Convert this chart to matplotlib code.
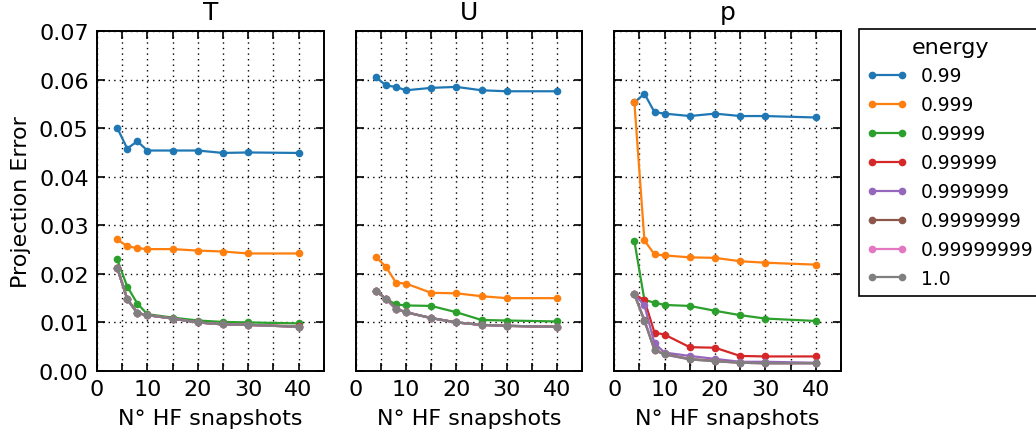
import matplotlib
matplotlib.use("Agg")
import matplotlib.pyplot as plt
from matplotlib.ticker import MultipleLocator, FuncFormatter

snapshots = [4, 6, 8, 10, 15, 20, 25, 30, 40]
energies = ["0.99", "0.999", "0.9999", "0.99999", "0.999999",
            "0.9999999", "0.99999999", "1.0"]
panels = ["T", "U", "p"]

# T panel
T_099 = [0.0501, 0.0458, 0.0473, 0.0454, 0.0454, 0.0454, 0.0449, 0.0450, 0.0449]
T_0999 = [0.0271, 0.0257, 0.0253, 0.0251, 0.0251, 0.0248, 0.0246, 0.0242, 0.0242]
T_09999 = [0.0230, 0.0174, 0.0139, 0.0117, 0.0110, 0.0104, 0.0101, 0.0100, 0.0098]
T_099999 = [0.0213, 0.0149, 0.0120, 0.0115, 0.0108, 0.0100, 0.0096, 0.0095, 0.0092]
T_0999999 = [0.0213, 0.0148, 0.0119, 0.0115, 0.0108, 0.0100, 0.0096, 0.0095, 0.0091]
T_09999999 = [0.0213, 0.0148, 0.0119, 0.0115, 0.0108, 0.0100, 0.0096, 0.0095, 0.0091]
T_099999999 = [0.0213, 0.0148, 0.0119, 0.0115, 0.0108, 0.0100, 0.0096, 0.0095, 0.0091]
T_1 = [0.0213, 0.0148, 0.0119, 0.0115, 0.0108, 0.0100, 0.0096, 0.0095, 0.0091]

# U panel
U_099 = [0.0606, 0.0588, 0.0585, 0.0578, 0.0583, 0.0585, 0.0578, 0.0576, 0.0576]
U_0999 = [0.0235, 0.0215, 0.0182, 0.0180, 0.0161, 0.0160, 0.0154, 0.0150, 0.0150]
U_09999 = [0.0165, 0.0149, 0.0137, 0.0135, 0.0134, 0.0121, 0.0105, 0.0104, 0.0102]
U_099999 = [0.0165, 0.0149, 0.0128, 0.0121, 0.0109, 0.0100, 0.0095, 0.0093, 0.0091]
U_0999999 = [0.0165, 0.0149, 0.0128, 0.0121, 0.0109, 0.0100, 0.0095, 0.0093, 0.0091]
U_09999999 = [0.0165, 0.0149, 0.0128, 0.0121, 0.0109, 0.0100, 0.0095, 0.0093, 0.0091]
U_099999999 = [0.0165, 0.0149, 0.0128, 0.0121, 0.0109, 0.0100, 0.0095, 0.0093, 0.0091]
U_1 = [0.0165, 0.0149, 0.0128, 0.0121, 0.0109, 0.0100, 0.0095, 0.0093, 0.0091]

# p panel
p_099 = [0.0553, 0.0571, 0.0533, 0.0530, 0.0525, 0.0530, 0.0525, 0.0525, 0.0522]
p_0999 = [0.0554, 0.0269, 0.0240, 0.0238, 0.0234, 0.0233, 0.0226, 0.0223, 0.0219]
p_09999 = [0.0268, 0.0146, 0.0141, 0.0136, 0.0134, 0.0124, 0.0115, 0.0108, 0.0103]
p_099999 = [0.0158, 0.0146, 0.0079, 0.0075, 0.0049, 0.0048, 0.0031, 0.0030, 0.0030]
p_0999999 = [0.0158, 0.0135, 0.0057, 0.0038, 0.0031, 0.0025, 0.0019, 0.0019, 0.0017]
p_09999999 = [0.0158, 0.0105, 0.0044, 0.0035, 0.0025, 0.0021, 0.0017, 0.0016, 0.0016]
p_099999999 = [0.0158, 0.0104, 0.0043, 0.0034, 0.0024, 0.0020, 0.0017, 0.0016, 0.0016]
p_1 = [0.0158, 0.0103, 0.0043, 0.0034, 0.0024, 0.0020, 0.0017, 0.0016, 0.0016]

data = {
    "T": [T_099, T_0999, T_09999, T_099999, T_0999999, T_09999999, T_099999999, T_1],
    "U": [U_099, U_0999, U_09999, U_099999, U_0999999, U_09999999, U_099999999, U_1],
    "p": [p_099, p_0999, p_09999, p_099999, p_0999999, p_09999999, p_099999999, p_1],
}

colors = ["#1f77b4", "#ff7f0e", "#2ca02c", "#d62728", "#9467bd",
          "#8c564b", "#e377c2", "#7f7f7f"]

plt.rcParams["font.family"] = ["DejaVu Sans"]
fig, axes = plt.subplots(1, 3, figsize=(10.36, 4.39), dpi=100, sharey=True)
fig.subplots_adjust(left=0.0936, right=0.8118, top=0.927, bottom=0.1526, wspace=0.14)

for ax, name in zip(axes, panels):
    for vals, lab, c in zip(data[name], energies, colors):
        ax.plot(snapshots, vals, "-o", color=c, label=lab, lw=1.6,
                markersize=5.5, markeredgewidth=0)
    ax.set_title(name, fontsize=18, pad=9)
    ax.set_xlim(0, 45)
    ax.set_ylim(0, 0.07)
    ax.xaxis.set_major_locator(MultipleLocator(5))
    ax.xaxis.set_major_formatter(FuncFormatter(
        lambda v, pos: "%d" % v if abs(v % 10) < 1e-9 and v <= 40 else ""))
    ax.yaxis.set_major_locator(MultipleLocator(0.01))
    ax.grid(True, color="black", linestyle=(0, (1, 3)), linewidth=1)
    ax.tick_params(direction="in", top=True, right=True, length=6, width=1.2,
                   labelsize=16, pad=6)
    for s in ax.spines.values():
        s.set_linewidth(1.4)
    ax.set_xlabel("N° HF snapshots", fontsize=16, labelpad=6)

axes[0].yaxis.set_major_formatter(FuncFormatter(lambda v, pos: "%.2f" % v))
axes[0].set_ylabel("Projection Error", fontsize=16, labelpad=6)

handles, labels = axes[0].get_legend_handles_labels()
leg = fig.legend(handles, labels, title="energy", loc="upper left",
                 bbox_to_anchor=(859 / 1036, 1 - 30 / 439),
                 bbox_transform=fig.transFigure, borderaxespad=0,
                 fontsize=13.5, title_fontsize=16, numpoints=2,
                 fancybox=False, edgecolor="black", framealpha=1,
                 handlelength=2.2, handletextpad=0.7,
                 labelspacing=0.53, borderpad=0.4)
leg.get_frame().set_linewidth(1.2)

fig.savefig("out.png", dpi=100, facecolor="white")
